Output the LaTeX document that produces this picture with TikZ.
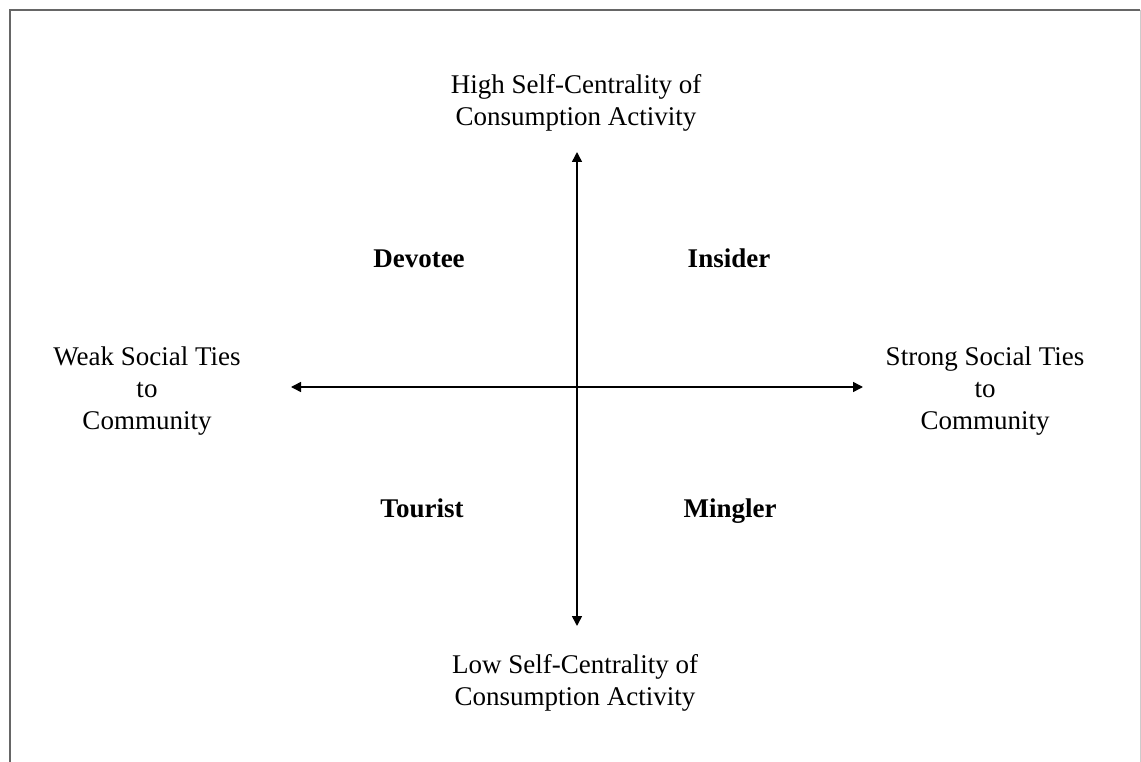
\documentclass[tikz,border=0pt]{standalone}
\usepackage{fontspec}
\setmainfont{Liberation Serif}
\usetikzlibrary{arrows.meta}
\begin{document}
\begin{tikzpicture}[x=1pt,y=-1pt,
  axislabel/.style={align=center,font=\fontsize{27}{32}\selectfont,inner sep=0pt},
  quadlabel/.style={anchor=base,font=\fontsize{27}{32}\selectfont\bfseries,inner sep=0pt},
  axis/.style={line width=1.5pt,{Triangle[length=10pt,width=10pt]}-{Triangle[length=10pt,width=10pt]}}]
\useasboundingbox (0,0) rectangle (1141,762);
% frame
\draw[line width=2pt,draw=black!60] (10,762) -- (10,10) -- (1140,10);
\draw[line width=1pt,draw=black!20] (1140,10) -- (1140,762);
% axis labels
\node[axislabel] (top) at (576,103) {High Self-Centrality of\\Consumption Activity};
\node[axislabel] (bottom) at (575,683) {Low Self-Centrality of\\Consumption Activity};
\node[axislabel] (left) at (147,391) {Weak Social Ties\\to\\Community};
\node[axislabel] (right) at (985,391) {Strong Social Ties\\to\\Community};
% quadrant labels
\node[quadlabel] (devotee) at (419,268) {Devotee};
\node[quadlabel] (insider) at (729,268) {Insider};
\node[quadlabel] (tourist) at (422,517) {Tourist};
\node[quadlabel] (mingler) at (730,517) {Mingler};
% axes
\coordinate (vtop) at (577,152);
\coordinate (vbot) at (577,626);
\coordinate (hleft) at (291,387);
\coordinate (hright) at (863,387);
\draw[axis] (vbot) -- (vtop);
\draw[axis] (hleft) -- (hright);
\end{tikzpicture}
\end{document}
